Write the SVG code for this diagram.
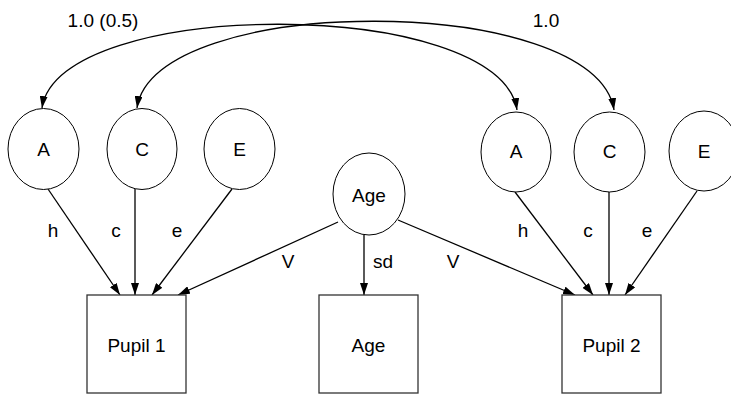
<svg xmlns="http://www.w3.org/2000/svg" width="731" height="394" viewBox="0 0 731 394">
<style>
.n{fill:#fff;stroke:#000;stroke-width:1}
.b{fill:#fff;stroke:#333;stroke-width:1.3}
.t{font-family:"Liberation Sans",Arial,sans-serif;font-size:19px;fill:#000;text-anchor:middle}
.e{fill:none;stroke:#000;stroke-width:1.3}
</style>
<defs>
<marker id="ah" viewBox="0 0 12 8" refX="12" refY="4" markerWidth="12" markerHeight="8" markerUnits="userSpaceOnUse" orient="auto-start-reverse">
<path d="M0,0 L12,4 L0,8 Z" fill="#000"/>
</marker>
</defs>
<rect width="731" height="394" fill="#fff"/>
<g id="connectors">
<path class="e" d="M42,108 C58,-4 500,-4 517,110" marker-start="url(#ah)" marker-end="url(#ah)"/>
<path class="e" d="M137,108 C153,-8 596,-8 614,110" marker-start="url(#ah)" marker-end="url(#ah)"/>
<line class="e" x1="48" y1="189" x2="120" y2="295" marker-end="url(#ah)"/>
<line class="e" x1="135" y1="189" x2="135" y2="295" marker-end="url(#ah)"/>
<line class="e" x1="232" y1="189" x2="152" y2="295" marker-end="url(#ah)"/>
<line class="e" x1="338" y1="222" x2="178" y2="295" marker-end="url(#ah)"/>
<line class="e" x1="364" y1="235" x2="364" y2="295" marker-end="url(#ah)"/>
<line class="e" x1="398" y1="220" x2="575" y2="295" marker-end="url(#ah)"/>
<line class="e" x1="515" y1="192" x2="593" y2="295" marker-end="url(#ah)"/>
<line class="e" x1="609" y1="192" x2="609" y2="295" marker-end="url(#ah)"/>
<line class="e" x1="697" y1="191" x2="625" y2="295" marker-end="url(#ah)"/>
<text class="t" x="103" y="27">1.0 (0.5)</text>
<text class="t" x="546" y="27">1.0</text>
<text class="t" x="53" y="237">h</text>
<text class="t" x="116" y="237">c</text>
<text class="t" x="177" y="237">e</text>
<text class="t" x="288" y="268">V</text>
<text class="t" x="383" y="268">sd</text>
<text class="t" x="453" y="268">V</text>
<text class="t" x="523" y="237">h</text>
<text class="t" x="588" y="237">c</text>
<text class="t" x="647" y="237">e</text>
</g>
<g id="A1"><ellipse class="n" cx="43.5" cy="149" rx="35.5" ry="40.5"/><text class="t" x="43.5" y="156">A</text></g>
<g id="C1"><ellipse class="n" cx="142" cy="149" rx="35" ry="40.5"/><text class="t" x="142" y="156">C</text></g>
<g id="E1"><ellipse class="n" cx="239.5" cy="149" rx="35.5" ry="40.5"/><text class="t" x="239.5" y="156">E</text></g>
<g id="AgeLatent"><ellipse class="n" cx="369" cy="194" rx="36" ry="41"/><text class="t" x="369" y="202">Age</text></g>
<g id="A2"><ellipse class="n" cx="516" cy="152" rx="35" ry="40"/><text class="t" x="516" y="158">A</text></g>
<g id="C2"><ellipse class="n" cx="609.5" cy="152" rx="35.5" ry="40"/><text class="t" x="609.5" y="158">C</text></g>
<g id="E2"><ellipse class="n" cx="704" cy="151" rx="35" ry="40"/><text class="t" x="704" y="158">E</text></g>
<g id="Pupil1"><rect class="b" x="87" y="295" width="99" height="98"/><text class="t" x="136.5" y="352">Pupil 1</text></g>
<g id="AgeBox"><rect class="b" x="319" y="295" width="99" height="98"/><text class="t" x="368.5" y="352">Age</text></g>
<g id="Pupil2"><rect class="b" x="562" y="295" width="99" height="98"/><text class="t" x="611.5" y="352">Pupil 2</text></g>
</svg>
